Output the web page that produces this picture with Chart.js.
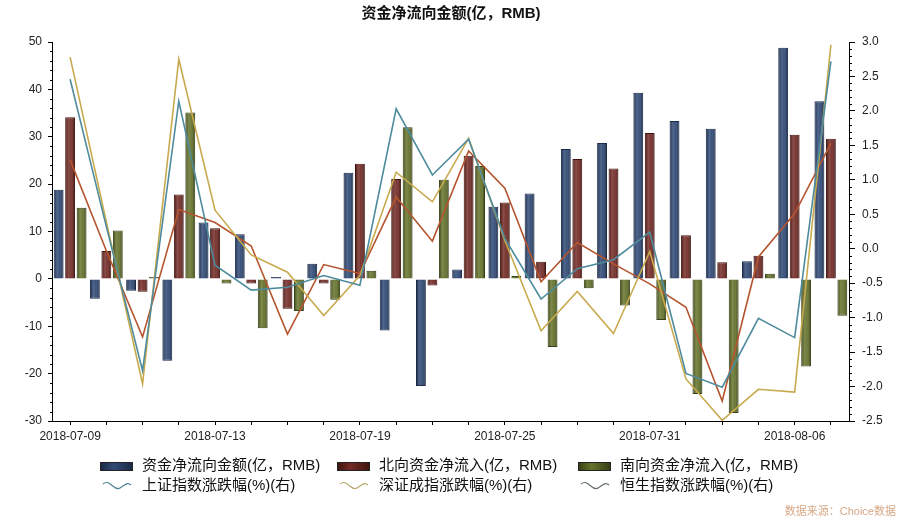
<!DOCTYPE html>
<html>
<head>
<meta charset="utf-8">
<script src="https://cdn.jsdelivr.net/npm/chart.js@4"></script>
<style>
    body { margin: 0; background: #fff; }
    #wrap { position: relative; width: 902px; height: 518px; font-family: "Liberation Sans", "Noto Sans CJK SC", sans-serif; color: #111; }
    #title { position: absolute; left: 0; top: 1px; width: 902px; text-align: center; font-size: 15px; font-weight: bold; }
    .leg { position: absolute; font-size: 15px; line-height: 18px; white-space: nowrap; }
    .leg .box { display: inline-block; width: 33px; height: 9px; vertical-align: middle; margin-right: 9px; border: 1px solid #222; box-sizing: border-box; }
    .leg svg { vertical-align: middle; margin-right: 9px; }
    #source { position: absolute; right: 6px; top: 502px; font-size: 11px; color: #d6a887; }
</style>
</head>
<body>
<div id="wrap">
    <canvas id="flow_chart" width="902" height="518"></canvas>
    <div id="title">资金净流向金额(亿，RMB)</div>
    <div id="legend"></div>
    <div id="source">数据来源：Choice数据</div>
</div>
<script>
var categories = ["2018-07-09", "2018-07-10", "2018-07-11", "2018-07-12", "2018-07-13", "2018-07-16",
    "2018-07-17", "2018-07-18", "2018-07-19", "2018-07-20", "2018-07-23", "2018-07-24", "2018-07-25",
    "2018-07-26", "2018-07-27", "2018-07-30", "2018-07-31", "2018-08-01", "2018-08-02", "2018-08-03",
    "2018-08-06", "2018-08-07"];

// 亿元
var netFlow = [18.8, -4.2, -2.5, -17.3, 11.9, 9.4, 0.4, 3.2, 22.4, -10.9, -22.6, 2.0, 15.2, 18.0, 27.4, 28.7, 39.3, 33.3, 31.7, 3.7, 48.8, 37.5];
var northbound = [34.1, 5.9, -2.7, 17.8, 10.7, -1.0, -6.3, -1.0, 24.3, 21.1, -1.4, 26.0, 16.1, 3.6, 25.3, 23.3, 30.8, 9.2, 3.5, 4.9, 30.4, 29.6];
var southbound = [15.0, 10.2, 0.4, 35.1, -1.0, -10.4, -6.8, -4.4, 1.7, 32.0, 20.9, 23.8, 0.6, -14.4, -2.0, -5.6, -8.7, -24.3, -28.3, 1.1, -18.5, -7.8];

// %（右轴）
var shChange = [2.46, 0.32, -1.77, 2.14, -0.24, -0.60, -0.56, -0.39, -0.53, 2.03, 1.07, 1.59, 0.15, -0.73, -0.29, -0.16, 0.24, -1.81, -2.01, -1.01, -1.29, 2.72];
var szChange = [2.78, 0.39, -1.96, 2.75, 0.56, -0.09, -0.34, -0.97, -0.39, 1.11, 0.68, 1.60, 0.12, -1.19, -0.62, -1.23, -0.04, -1.89, -2.49, -2.04, -2.08, 2.96];
var hsChange = [1.29, -0.03, -1.28, 0.57, 0.38, 0.04, -1.24, -0.23, -0.36, 0.75, 0.11, 1.42, 0.88, -0.48, 0.09, -0.22, -0.51, -0.85, -2.21, -0.12, 0.51, 1.53];

var leftTicks = [-30, -20, -10, 0, 10, 20, 30, 40, 50];
var rightTicks = [-2.5, -2.0, -1.5, -1.0, -0.5, 0.0, 0.5, 1.0, 1.5, 2.0, 2.5, 3.0];

var barColors = ["#314a76", "#742c27", "#65732c"];
var barEdges = ["#1a2a46", "#40150f", "#363f16"];
var lineColors = ["#4e8b9d", "#c8aa4e", "#b4552f"];
var legendLineColors = ["#4e8496", "#b9ab72", "#66706a"];

var barNames = ["资金净流向金额(亿，RMB)", "北向资金净流入(亿，RMB)", "南向资金净流入(亿，RMB)"];
var lineNames = ["上证指数涨跌幅(%)(右)", "深证成指涨跌幅(%)(右)", "恒生指数涨跌幅(%)(右)"];

var font = "'Liberation Sans', Arial, sans-serif";

// short minor ticks on both value axes
var minorTicks = {
    id: "minorTicks",
    afterDraw: function (chart) {
        var ctx = chart.ctx;
        var y = chart.scales.y;
        var y1 = chart.scales.y1;
        ctx.save();
        ctx.strokeStyle = "#000";
        ctx.lineWidth = 1;
        ctx.beginPath();
        for (var v = -30; v <= 50; v += 2) {
            if (v % 10 === 0) continue;
            var p = Math.round(y.getPixelForValue(v)) + 0.5;
            ctx.moveTo(y.right - 2, p);
            ctx.lineTo(y.right, p);
        }
        for (var i = -25; i <= 30; i++) {
            if (i % 5 === 0) continue;
            var q = Math.round(y1.getPixelForValue(i / 10)) + 0.5;
            ctx.moveTo(y1.left, q);
            ctx.lineTo(y1.left + 3, q);
        }
        ctx.stroke();
        ctx.restore();
    },
};

// cylinder-like highlight on each bar, before the lines are drawn
var barShade = {
    id: "barShade",
    afterDatasetDraw: function (chart, args) {
        var meta = args.meta;
        if (meta.type !== "bar") return;
        var ctx = chart.ctx;
        ctx.save();
        meta.data.forEach(function (bar) {
            var left = bar.x - bar.width / 2 + 1;
            var w = bar.width - 2;
            var top = Math.min(bar.y, bar.base) + 1;
            var h = Math.abs(bar.base - bar.y) - 2;
            if (h <= 0 || w <= 0) return;
            var g = ctx.createLinearGradient(left, 0, left + w, 0);
            g.addColorStop(0, "rgba(0,0,0,0.25)");
            g.addColorStop(0.35, "rgba(255,255,255,0.16)");
            g.addColorStop(0.6, "rgba(255,255,255,0.06)");
            g.addColorStop(1, "rgba(0,0,0,0.3)");
            ctx.fillStyle = g;
            ctx.fillRect(left, top, w, h);
        });
        ctx.restore();
    },
};

var datasets = [];
var lineSeries = [shChange, szChange, hsChange];
for (var k = 0; k < 3; k++) {
    datasets.push({
        type: "line",
        label: lineNames[k],
        data: lineSeries[k],
        yAxisID: "y1",
        borderColor: lineColors[k],
        borderWidth: 1.6,
        pointRadius: 0,
        tension: 0,
        order: 0,
    });
}
var barSeries = [netFlow, northbound, southbound];
for (var j = 0; j < 3; j++) {
    datasets.push({
        type: "bar",
        label: barNames[j],
        data: barSeries[j],
        yAxisID: "y",
        backgroundColor: barColors[j],
        borderColor: barEdges[j],
        borderWidth: 1,
        barPercentage: 0.86,
        categoryPercentage: 0.95,
        order: 1,
    });
}

var chart = new Chart(document.getElementById("flow_chart").getContext("2d"), {
    type: "bar",
    data: {
        labels: categories,
        datasets: datasets,
    },
    options: {
        responsive: false,
        animation: false,
        layout: {
            padding: { top: 42, bottom: 73, left: 0, right: 0 },
        },
        plugins: {
            legend: { display: false },
            tooltip: { enabled: false },
        },
        scales: {
            x: {
                offset: true,
                grid: {
                    offset: false,
                    drawOnChartArea: false,
                    tickLength: 4,
                    color: "#000",
                },
                border: { color: "#000" },
                ticks: {
                    autoSkip: false,
                    maxRotation: 0,
                    padding: 4,
                    color: "#222",
                    font: { family: font, size: 12 },
                    callback: function (value, index) {
                        return index % 4 === 0 ? categories[index] : "";
                    },
                },
                afterFit: function (scale) {
                    scale.height = 24;
                },
            },
            y: {
                position: "left",
                min: leftTicks[0],
                max: leftTicks[leftTicks.length - 1],
                afterBuildTicks: function (scale) {
                    scale.ticks = leftTicks.map(function (v) { return { value: v }; });
                },
                grid: { drawOnChartArea: false, tickLength: 4, color: "#000" },
                border: { color: "#000" },
                ticks: {
                    padding: 6,
                    color: "#222",
                    font: { family: font, size: 12 },
                },
                afterFit: function (scale) {
                    scale.width = 52;
                },
            },
            y1: {
                position: "right",
                min: rightTicks[0],
                max: rightTicks[rightTicks.length - 1],
                afterBuildTicks: function (scale) {
                    scale.ticks = rightTicks.map(function (v) { return { value: v }; });
                },
                grid: { drawOnChartArea: false, tickLength: 6, color: "#000" },
                border: { color: "#000" },
                ticks: {
                    padding: 7,
                    color: "#222",
                    font: { family: font, size: 12 },
                    callback: function (value) {
                        return value.toFixed(1);
                    },
                },
                afterFit: function (scale) {
                    scale.width = 53;
                },
            },
        },
    },
    plugins: [minorTicks, barShade],
});

// legend, three columns by two rows
var legend = document.getElementById("legend");
var colX = [100, 337, 578];
var html = "";
for (var c = 0; c < 3; c++) {
    html += '<div class="leg" style="left:' + colX[c] + 'px;top:456px">' +
        '<span class="box" style="background:linear-gradient(to right,' + barEdges[c] + ',' + barColors[c] + ' 40%,' + barEdges[c] + ')"></span>' +
        barNames[c] + "</div>";
    html += '<div class="leg" style="left:' + colX[c] + 'px;top:476px">' +
        '<svg width="33" height="12"><path d="M3 4 C 10 -2, 14 12, 20 8 S 28 2, 31 5" fill="none" stroke="' + legendLineColors[c] + '" stroke-width="1.2"/></svg>' +
        lineNames[c] + "</div>";
}
legend.innerHTML = html;
</script>
</body>
</html>
